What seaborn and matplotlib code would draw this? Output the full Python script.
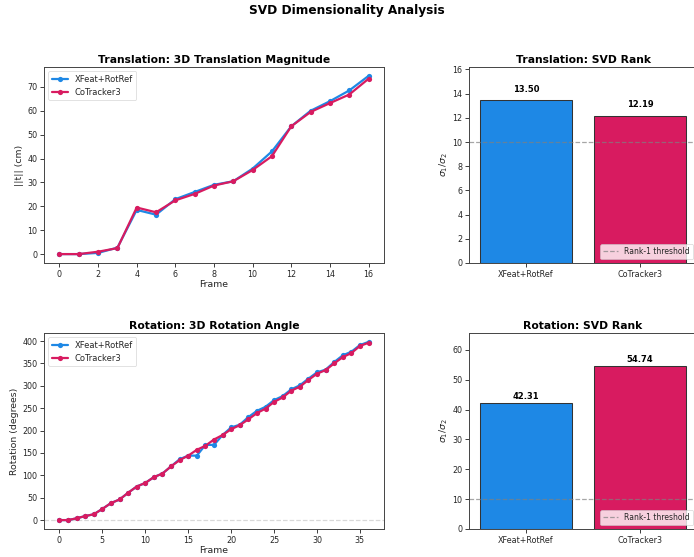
import numpy as np
import pandas as pd
import matplotlib
matplotlib.use("Agg")
import matplotlib.pyplot as plt
import seaborn as sns

# ---- data ----
methods = ["XFeat+RotRef", "CoTracker3"]
colors = ["#1E88E5", "#D81B60"]

trans_frames = list(range(17))
trans_xfeat = [0.0, 0.0, 0.5, 2.7, 18.5, 16.5, 23.0, 26.0, 29.0, 30.5, 35.8, 43.0, 53.5, 60.0, 64.0, 68.5, 74.6]
trans_cotracker = [0.0, 0.0, 1.0, 2.5, 19.5, 17.5, 22.5, 25.2, 28.7, 30.5, 35.2, 41.0, 53.5, 59.5, 63.2, 66.8, 73.4]

rot_frames = list(range(37))
rot_xfeat = [0, 0, 4, 9, 13, 25, 38, 46, 61, 75, 83, 96, 104, 120, 136, 144, 144, 168, 168, 190,
             207, 213, 230, 244, 253, 268, 277, 292, 301, 316, 330, 336, 353, 368, 376, 391, 398]
rot_cotracker = [0, 0, 4, 9, 13, 25, 38, 46, 61, 75, 83, 96, 104, 120, 134, 144, 157, 166, 180, 190,
                 203, 212, 225, 239, 249, 264, 274, 289, 298, 313, 327, 335, 350, 364, 373, 389, 396]

svd_trans = [13.50, 12.19]
svd_rot = [42.31, 54.74]
threshold = 10

# ---- style ----
sns.set_theme(style="ticks", context="notebook",
              rc={"axes.edgecolor": "#444444", "axes.linewidth": 1.4})
plt.rcParams["font.family"] = ["DejaVu Sans"]

W, H = 694, 557
DPI = 50
fig = plt.figure(figsize=(W / DPI, H / DPI), dpi=DPI)

def box(l, t, r, b):
    return [l / W, 1 - b / H, (r - l) / W, (b - t) / H]

ax_tl = fig.add_axes(box(44, 67, 384, 263))
ax_bl = fig.add_axes(box(44, 333, 384, 529))
ax_tr = fig.add_axes(box(469, 67, 697, 263))
ax_br = fig.add_axes(box(469, 333, 697, 529))

pal = dict(zip(methods, colors))

def line_panel(ax, frames, a, b, title, ylabel, zero_line=False):
    df = pd.DataFrame({
        "Frame": frames + frames,
        "val": a + b,
        "Method": [methods[0]] * len(frames) + [methods[1]] * len(frames),
    })
    if zero_line:
        ax.axhline(0, color="gray", linestyle="--", alpha=0.3, linewidth=1.8)
    sns.lineplot(data=df, x="Frame", y="val", hue="Method", palette=pal,
                 marker="o", markersize=7.5, markeredgewidth=0, linewidth=3.2,
                 ax=ax, hue_order=methods)
    ax.set_title(title, fontsize=15.5, fontweight="bold", color="black")
    ax.set_xlabel("Frame", fontsize=13.5, labelpad=2)
    ax.set_ylabel(ylabel, fontsize=13.5)
    ax.tick_params(labelsize=11.5)
    ax.legend(loc="upper left", fontsize=12)

line_panel(ax_tl, trans_frames, trans_xfeat, trans_cotracker,
           "Translation: 3D Translation Magnitude", "||t|| (cm)")
ax_tl.set_xticks(range(0, 17, 2))
line_panel(ax_bl, rot_frames, rot_xfeat, rot_cotracker,
           "Rotation: 3D Rotation Angle", "Rotation (degrees)", zero_line=True)

def bar_panel(ax, vals, title):
    sns.barplot(x=methods, y=vals, hue=methods, palette=pal, legend=False,
                saturation=1, edgecolor="#333333", linewidth=1.5, ax=ax, order=methods)
    ax.axhline(threshold, color="gray", linestyle="--", alpha=0.7, linewidth=1.8,
               label="Rank-1 threshold")
    for i, v in enumerate(vals):
        ax.text(i, v + 0.5, f"{v:.2f}", ha="center", va="bottom",
                fontsize=12, fontweight="bold", color="black")
    ax.set_ylim(0, max(vals) * 1.2)
    ax.set_title(title, fontsize=15.5, fontweight="bold", color="black")
    ax.set_ylabel(r"$\sigma_1/\sigma_2$", fontsize=13.5)
    ax.tick_params(labelsize=11.5)
    ax.legend(loc="lower right", fontsize=11)

bar_panel(ax_tr, svd_trans, "Translation: SVD Rank")
bar_panel(ax_br, svd_rot, "Rotation: SVD Rank")

fig.suptitle("SVD Dimensionality Analysis", fontsize=17.5, fontweight="bold",
             y=0.992, color="black")

fig.savefig("out.png", dpi=DPI)
